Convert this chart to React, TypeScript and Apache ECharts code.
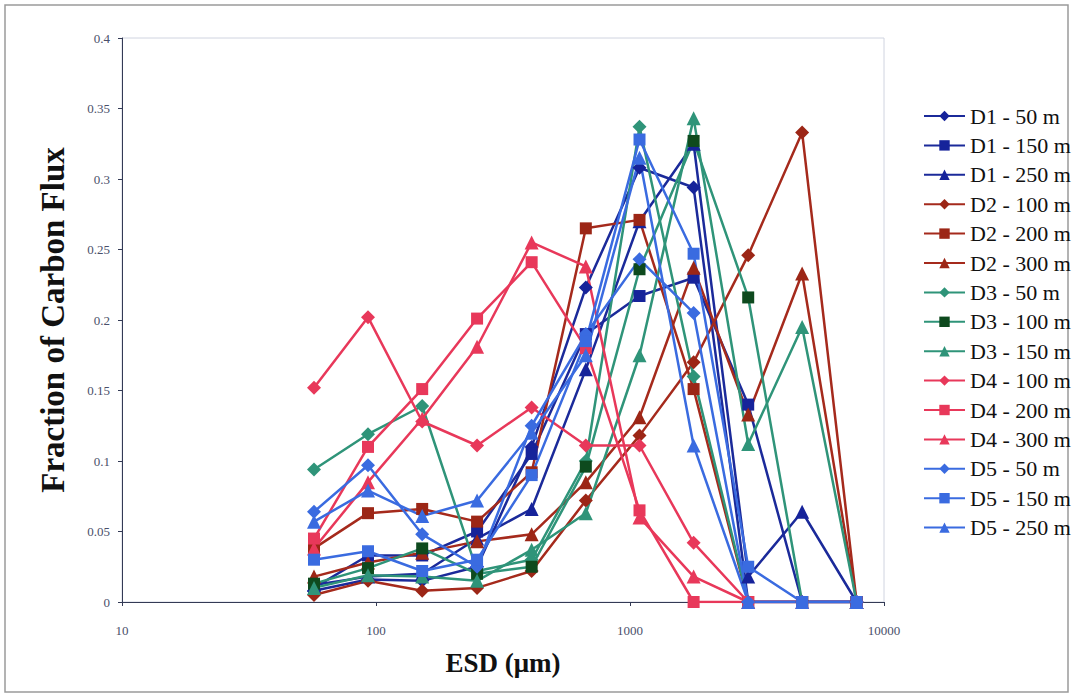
import React, { useEffect, useRef } from "react";
import * as echarts from "echarts";

const esd = [57, 93, 152, 250, 410, 670, 1090, 1780, 2920, 4760, 7800];
const xTickLabels = ["10", "100", "1000", "10000"];

const d1_50 = [0.008, 0.016, 0.015, 0.025, 0.11, 0.223, 0.308, 0.294, 0, 0, 0];
const d1_150 = [0.01, 0.033, 0.033, 0.05, 0.105, 0.19, 0.217, 0.23, 0.14, 0, 0];
const d1_250 = [0.012, 0.018, 0.02, 0.045, 0.066, 0.165, 0.27, 0.325, 0.018, 0.064, 0];
const d2_100 = [0.005, 0.015, 0.008, 0.01, 0.022, 0.072, 0.118, 0.17, 0.246, 0.333, 0];
const d2_200 = [0.038, 0.063, 0.066, 0.057, 0.092, 0.265, 0.271, 0.151, 0, 0, 0];
const d2_300 = [0.018, 0.028, 0.035, 0.043, 0.048, 0.085, 0.131, 0.237, 0.133, 0.233, 0];
const d3_50 = [0.094, 0.119, 0.139, 0.022, 0.03, 0.1, 0.337, 0.16, 0, 0, 0];
const d3_100 = [0.013, 0.024, 0.038, 0.02, 0.025, 0.096, 0.236, 0.327, 0.216, 0, 0];
const d3_150 = [0.01, 0.019, 0.018, 0.015, 0.037, 0.063, 0.175, 0.343, 0.112, 0.195, 0];
const d4_100 = [0.152, 0.202, 0.128, 0.111, 0.138, 0.111, 0.111, 0.042, 0, 0, 0];
const d4_200 = [0.045, 0.11, 0.151, 0.201, 0.241, 0.18, 0.065, 0, 0, 0, 0];
const d4_300 = [0.038, 0.085, 0.13, 0.181, 0.255, 0.238, 0.06, 0.018, 0, 0, 0];
const d5_50 = [0.064, 0.097, 0.048, 0.025, 0.125, 0.19, 0.243, 0.205, 0, 0, 0];
const d5_150 = [0.03, 0.036, 0.022, 0.03, 0.09, 0.185, 0.328, 0.247, 0.025, 0, 0];
const d5_250 = [0.057, 0.079, 0.061, 0.072, 0.12, 0.175, 0.315, 0.111, 0, 0, 0];

const seriesNames = [
  "D1 - 50 m", "D1 - 150 m", "D1 - 250 m",
  "D2 - 100 m", "D2 - 200 m", "D2 - 300 m",
  "D3 - 50 m", "D3 - 100 m", "D3 - 150 m",
  "D4 - 100 m", "D4 - 200 m", "D4 - 300 m",
  "D5 - 50 m", "D5 - 150 m", "D5 - 250 m",
];
const seriesValues = [
  d1_50, d1_150, d1_250, d2_100, d2_200, d2_300,
  d3_50, d3_100, d3_150, d4_100, d4_200, d4_300,
  d5_50, d5_150, d5_250,
];
const lineColors = [
  "#1b2a9a", "#1b2a9a", "#1b2a9a",
  "#a52a1c", "#a52a1c", "#a52a1c",
  "#2f9479", "#2f9479", "#2f9479",
  "#e8385a", "#e8385a", "#e8385a",
  "#3a6be0", "#3a6be0", "#3a6be0",
];
const markerColors = [
  "#16239a", "#16239a", "#16239a",
  "#9c2616", "#9c2616", "#9c2616",
  "#2f9479", "#0e4a1e", "#2f9479",
  "#e8385a", "#e8385a", "#e8385a",
  "#3a6be0", "#3a6be0", "#3a6be0",
];
const symbols = ["diamond", "rect", "triangle"];

const FONT = "Liberation Serif, serif";

export default function App() {
  const ref = useRef<HTMLDivElement>(null);
  useEffect(() => {
    document.body.style.margin = "0";
    const chart = echarts.init(ref.current!, null, { renderer: "svg" });
    const series = seriesNames.map((name, i) => ({
      name,
      type: "line",
      data: esd.map((x, j) => [x, seriesValues[i][j]]),
      symbol: symbols[i % 3],
      symbolSize: symbols[i % 3] === "rect" ? 12 : 14,
      lineStyle: { color: lineColors[i], width: 2.5 },
      itemStyle: { color: markerColors[i] },
      color: markerColors[i],
    }));
    chart.setOption({
      animation: false,
      backgroundColor: "#ffffff",
      textStyle: { fontFamily: FONT },
      graphic: [
        {
          type: "rect",
          shape: { x: 5, y: 5, width: 1063, height: 687 },
          style: { fill: "none", stroke: "#9a9a9a", lineWidth: 1.5 },
          silent: true,
        },
      ],
      grid: {
        left: 122, top: 38, width: 762, height: 564,
        show: true, borderColor: "#d0d4e0", borderWidth: 1, backgroundColor: "#fff",
      },
      legend: {
        orient: "vertical",
        left: 918,
        top: 100,
        itemWidth: 41,
        itemHeight: 13,
        itemGap: 7.4,
        formatter: "{t|{name}}",
        textStyle: {
          fontFamily: FONT, fontSize: 22, color: "#111", lineHeight: 22,
          rich: { t: { fontFamily: FONT, fontSize: 22, color: "#111", lineHeight: 22 } },
        },
        data: seriesNames,
      },
      xAxis: {
        type: "log",
        logBase: 10,
        min: 10,
        max: 10000,
        name: "ESD (μm)",
        nameLocation: "middle",
        nameGap: 47,
        nameTextStyle: { fontFamily: FONT, fontSize: 27, fontWeight: "bold", color: "#111" },
        axisLine: { lineStyle: { color: "#333a55", width: 1 } },
        axisTick: { show: true, inside: false, length: 4, lineStyle: { color: "#333a55" } },
        minorTick: { show: false },
        splitLine: { show: false },
        axisLabel: {
          fontFamily: FONT, fontSize: 13, color: "#4a4f6a", margin: 22,
          formatter: (v: number) => {
            const k = xTickLabels.indexOf(String(Math.round(v)));
            return k >= 0 ? xTickLabels[k] : "";
          },
        },
      },
      yAxis: {
        type: "value",
        min: 0,
        max: 0.4,
        interval: 0.05,
        name: "Fraction of Carbon Flux",
        nameLocation: "middle",
        nameGap: 53,
        nameTextStyle: { fontFamily: FONT, fontSize: 33, fontWeight: "bold", color: "#111" },
        axisLine: { show: true, lineStyle: { color: "#333a55", width: 1 } },
        axisTick: { show: true, inside: false, length: 4, lineStyle: { color: "#333a55" } },
        splitLine: { show: false },
        axisLabel: { fontFamily: FONT, fontSize: 13, color: "#4a4f6a", margin: 12 },
      },
      series,
    });
    return () => chart.dispose();
  }, []);
  return <div ref={ref} style={{ width: 1074, height: 698 }} />;
}
